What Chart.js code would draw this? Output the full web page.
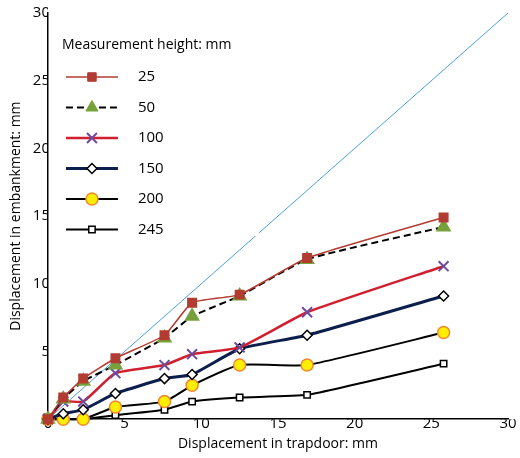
<!DOCTYPE html><html><head><script src="https://cdn.jsdelivr.net/npm/chart.js@4"></script>
<style>body{margin:0;background:#fff}#w{width:520px;height:458px}</style></head><body><div id="w"><canvas id="c"></canvas></div>
<script>
const xs=[0,1,2.3,4.4,7.6,9.4,12.5,16.9,25.8];
const h25=[0,1.6,3.0,4.5,6.2,8.6,9.2,11.9,14.9];
const h50=[0,1.5,2.8,4.0,6.0,7.6,9.1,11.8,14.2];
const h100=[0,1.3,1.3,3.4,4.0,4.8,5.3,7.9,11.3];
const h150=[0,0.4,0.7,1.9,3.0,3.3,5.2,6.2,9.1];
const h200=[0,0,0,0.9,1.3,2.5,4.0,4.0,6.4];
const h245=[0,0,0,0.3,0.7,1.3,1.6,1.8,4.1];
const ref=[0,30];
const pts=a=>a.map((y,i)=>({x:xs[i],y}));
const F="'Open Sans'";
const ds=[
{label:'25',data:pts(h25),borderColor:'#b23b32',backgroundColor:'#b23b32',pointStyle:'rect',pointRadius:6,borderWidth:1.5},
{label:'50',data:pts(h50),borderColor:'#000',borderDash:[7,4],backgroundColor:'#77a13d',pointBorderColor:'#77a13d',pointStyle:'triangle',pointRadius:7,borderWidth:2},
{label:'100',data:pts(h100),borderColor:'#d0202f',backgroundColor:'#7a4fa0',pointBorderColor:'#6f4a9c',pointStyle:'crossRot',pointRadius:7,pointBorderWidth:2,borderWidth:2.5},
{label:'150',data:pts(h150),borderColor:'#0c1e4c',backgroundColor:'#fff',pointBorderColor:'#000',pointStyle:'rectRot',pointRadius:5,pointBorderWidth:1.5,borderWidth:3},
{label:'200',data:pts(h200),borderColor:'#000',backgroundColor:'#ffee00',pointBorderColor:'#f08a30',pointStyle:'circle',pointRadius:6,pointBorderWidth:1.5,borderWidth:2},
{label:'245',data:pts(h245),borderColor:'#000',backgroundColor:'#fff',pointBorderColor:'#000',pointStyle:'rect',pointRadius:4.5,pointBorderWidth:1.5,borderWidth:2},
{label:'ref',data:ref.map(v=>({x:v,y:v})),borderColor:'#4a9fe0',borderWidth:1,pointRadius:0,tension:0}
];
ds.forEach(d=>{if(d.tension===undefined)d.tension=0.15;});
new Chart(document.getElementById('c'),{type:'scatter',data:{datasets:ds.map(d=>Object.assign({showLine:true,fill:false,clip:false},d))},
options:{responsive:true,maintainAspectRatio:false,animation:false,
layout:{padding:{left:4,right:12,top:2,bottom:6}},
plugins:{legend:{display:false},tooltip:{enabled:false}},
scales:{
x:{min:0,max:30,ticks:{stepSize:5,color:'#000',font:{family:F,size:15},padding:2},grid:{display:false,tickColor:'#000',tickLength:-6},border:{color:'#000',width:1.5},title:{display:true,text:'Displacement in trapdoor: mm',color:'#000',font:{family:F,size:14},padding:0}},
y:{min:0,max:30,ticks:{stepSize:5,color:'#000',font:{family:F,size:15},padding:4},grid:{display:false,tickColor:'#000',tickLength:-6},border:{color:'#000',width:1.5},title:{display:true,text:'Displacement in embankment: mm',color:'#000',font:{family:F,size:14},padding:4}}
}},
plugins:[{id:'lg',afterDatasetsDraw(c){const g=c.ctx,a=c.chartArea;const x0=a.left+6,y0=a.top+8,w=205,h=215;
g.save();g.fillStyle='#fff';g.fillRect(x0,y0,w,h);
g.fillStyle='#000';g.font='14px '+F;g.textBaseline='middle';g.fillText('Measurement height: mm',x0+8,y0+24);
ds.slice(0,6).forEach((d,i)=>{const y=y0+56+i*30.5;g.save();g.strokeStyle=d.borderColor;g.lineWidth=d.borderWidth;if(d.borderDash)g.setLineDash(d.borderDash);g.beginPath();g.moveTo(x0+12,y);g.lineTo(x0+64,y);g.stroke();g.restore();
g.save();g.fillStyle=d.backgroundColor;g.strokeStyle=d.pointBorderColor||d.borderColor;g.lineWidth=d.pointBorderWidth||1;
Chart.helpers.drawPoint(g,{pointStyle:d.pointStyle,radius:d.pointRadius,borderWidth:d.pointBorderWidth||1,rotation:0},x0+38,y);g.restore();
g.fillStyle='#000';g.font='15px '+F;g.fillText(d.label,x0+84,y);});g.restore();}}]
});
</script></body></html>
